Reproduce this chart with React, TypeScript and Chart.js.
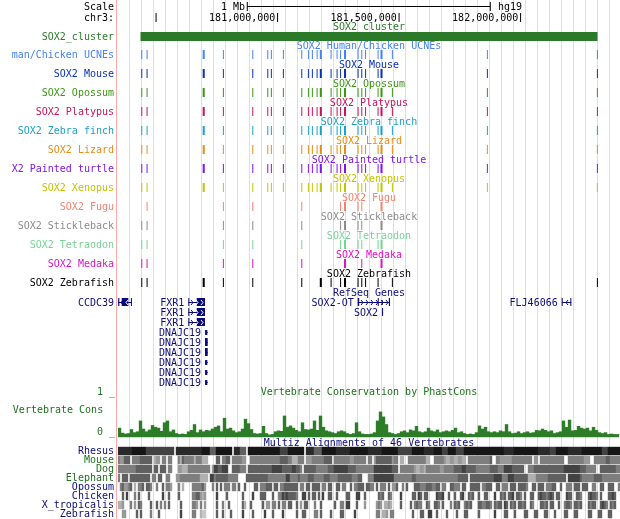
import React, { useEffect, useRef } from "react";
import { Chart, registerables } from "chart.js";

Chart.register(...registerables);

// ---------- genomic window (chr3, Mb) ----------
const VIEW_START = 180.3444;
const VIEW_END = 182.4102;

const CHROM_TICKS = [180.5, 181.0, 181.5, 182.0];
const CHROM_TICK_LABELS = ["", "181,000,000", "181,500,000", "182,000,000"];
const SCALE_BAR = [180.8753, 181.8753]; // 1 Mb
const SOX2_CLUSTER = [180.437, 182.3177];

// ---------- UCNE positions (Mb) per track ----------
const UCNE_HUMAN_CHICKEN = [180.442, 180.4638, 180.6971, 180.7778, 180.8988, 180.9605, 180.9753, 181.0247, 181.1004, 181.1276, 181.144, 181.1634, 181.179, 181.221, 181.2457, 181.2601, 181.2786, 181.3321, 181.3473, 181.363, 181.4144, 181.4288, 181.4733, 181.8642, 182.3169];
const UCNE_MOUSE = [180.442, 180.4638, 180.6971, 180.7778, 180.8988, 180.9605, 180.9753, 181.0247, 181.1004, 181.1276, 181.144, 181.1634, 181.179, 181.221, 181.2457, 181.2601, 181.2786, 181.3321, 181.3473, 181.363, 181.4144, 181.4288, 181.8642, 182.3169];
const UCNE_OPOSSUM = [180.442, 180.4638, 180.6971, 180.7778, 180.8988, 180.9605, 180.9753, 181.0247, 181.1004, 181.1276, 181.144, 181.1634, 181.179, 181.221, 181.2457, 181.2601, 181.2786, 181.3321, 181.3473, 181.363, 181.4144, 181.4288, 181.4733, 181.8642, 182.3169];
const UCNE_PLATYPUS = [180.442, 180.4638, 180.6971, 180.7778, 180.8988, 180.9605, 180.9753, 181.0247, 181.1004, 181.1276, 181.144, 181.1634, 181.179, 181.221, 181.2457, 181.2601, 181.2786, 181.3321, 181.3473, 181.363, 181.4144, 181.4288, 181.4733, 181.8642, 182.3169];
const UCNE_ZEBRA_FINCH = [180.442, 180.4638, 180.6971, 180.7778, 180.8988, 180.9605, 180.9753, 181.0247, 181.1004, 181.1276, 181.144, 181.1634, 181.179, 181.221, 181.2457, 181.2601, 181.2786, 181.3321, 181.3473, 181.363, 181.4144, 181.4288, 181.4733, 181.8642, 182.3169];
const UCNE_LIZARD = [180.442, 180.4638, 180.6971, 180.7778, 180.8988, 180.9605, 180.9753, 181.0247, 181.1004, 181.1276, 181.144, 181.1634, 181.179, 181.221, 181.2457, 181.2601, 181.2786, 181.3321, 181.3473, 181.363, 181.4144, 181.4288, 181.4733, 181.8642, 182.3169];
const UCNE_TURTLE = [180.442, 180.4638, 180.6971, 180.7778, 180.8988, 180.9605, 180.9753, 181.0247, 181.1004, 181.1276, 181.144, 181.1634, 181.179, 181.221, 181.2457, 181.2601, 181.2786, 181.3321, 181.3473, 181.363, 181.4144, 181.4288, 181.8642, 182.3169];
const UCNE_XENOPUS = [180.442, 180.4638, 180.6971, 180.7778, 180.8988, 180.9605, 180.9753, 181.0247, 181.1004, 181.1276, 181.144, 181.1634, 181.179, 181.221, 181.2457, 181.2601, 181.2786, 181.3321, 181.3473, 181.363, 181.4144, 181.4288, 181.4733, 181.8642, 182.3169];
const UCNE_FUGU = [180.4638, 180.7778, 180.8988, 181.1004, 181.2601, 181.2786, 181.3321, 181.3473, 181.4288];
const UCNE_STICKLEBACK = [180.442, 180.4638, 180.7778, 180.8988, 181.1004, 181.2601, 181.2786, 181.3321, 181.3473, 181.4288];
const UCNE_TETRAODON = [180.442, 180.4638, 180.7778, 180.8988, 181.1004, 181.2601, 181.2786, 181.3321, 181.3473, 181.4144, 181.4288];
const UCNE_MEDAKA = [180.442, 180.4638, 180.7778, 180.8988, 181.1004, 181.2786, 181.3473, 181.4288];
const UCNE_ZEBRAFISH = [180.442, 180.4638, 180.6971, 180.7778, 180.8988, 181.1004, 181.179, 181.221, 181.2601, 181.2786, 181.3321, 181.3473, 181.363, 181.4144, 181.4733, 182.3169];
const WIDE_UCNES = [180.6971, 181.179, 181.2786, 181.4288];

const UCNE_LABELS = ["man/Chicken UCNEs", "SOX2 Mouse", "SOX2 Opossum", "SOX2 Platypus", "SOX2 Zebra finch", "SOX2 Lizard", "X2 Painted turtle", "SOX2 Xenopus", "SOX2 Fugu", "SOX2 Stickleback", "SOX2 Tetraodon", "SOX2 Medaka", "SOX2 Zebrafish"];
const UCNE_TITLES = ["SOX2 Human/Chicken UCNEs", "SOX2 Mouse", "SOX2 Opossum", "SOX2 Platypus", "SOX2 Zebra finch", "SOX2 Lizard", "SOX2 Painted turtle", "SOX2 Xenopus", "SOX2 Fugu", "SOX2 Stickleback", "SOX2 Tetraodon", "SOX2 Medaka", "SOX2 Zebrafish"];
const UCNE_SETS = [UCNE_HUMAN_CHICKEN, UCNE_MOUSE, UCNE_OPOSSUM, UCNE_PLATYPUS, UCNE_ZEBRA_FINCH, UCNE_LIZARD, UCNE_TURTLE, UCNE_XENOPUS, UCNE_FUGU, UCNE_STICKLEBACK, UCNE_TETRAODON, UCNE_MEDAKA, UCNE_ZEBRAFISH];
const UCNE_COLORS = ["#4682f0", "#0a32b4", "#3c9614", "#c8145a", "#1ea0c8", "#e68c14", "#8214e6", "#c3c300", "#f5826e", "#8c8c8c", "#78d296", "#dc14c8", "#000000"];

// ---------- RefSeq genes ----------
const GENE_NAMES = ["CCDC39", "FXR1", "FXR1", "FXR1", "DNAJC19", "DNAJC19", "DNAJC19", "DNAJC19", "DNAJC19", "DNAJC19", "SOX2-OT", "SOX2", "FLJ46066"];
const GENE_ROWS = [0, 0, 1, 2, 3, 4, 5, 6, 7, 8, 0, 1, 0];
const GENE_STRANDS = ["-", "+", "+", "+", "-", "-", "-", "-", "-", "-", "+", "+", "-"];
const GENE_SPANS = [
  [180.3, 180.4008], [180.6337, 180.7025], [180.6337, 180.7025], [180.6337, 180.7025],
  [180.7025, 180.7136], [180.7025, 180.7136], [180.7025, 180.7136], [180.7025, 180.7136], [180.7025, 180.7136], [180.7025, 180.7136],
  [181.3309, 181.4638], [181.4309, 181.4352], [182.1704, 182.2099],
];
// [start, end, coding(1)/utr(0)]
const GENE_EXONS = [
  [[180.3452, 180.35, 1], [180.3597, 180.3868, 1], [180.3975, 180.4008, 1]],
  [[180.6337, 180.6375, 1], [180.6683, 180.7025, 1]],
  [[180.6337, 180.6375, 1], [180.6683, 180.7025, 1]],
  [[180.6337, 180.6375, 1], [180.6683, 180.7025, 1]],
  [[180.7027, 180.712, 0]],
  [[180.7025, 180.7136, 1]],
  [[180.7025, 180.7136, 1]],
  [[180.7027, 180.712, 0]],
  [[180.7027, 180.712, 0]],
  [[180.7027, 180.712, 0]],
  [[181.3309, 181.337, 1], [181.4132, 181.4175, 1], [181.4296, 181.433, 0], [181.459, 181.4638, 1]],
  [[181.4309, 181.4352, 1]],
  [[182.1704, 182.1745, 1], [182.2058, 182.2099, 1]],
];

// ---------- Vertebrate PhastCons (bins of 0.012346 Mb from VIEW_START) ----------
const CONS_BIN = 0.012346;
const CONS_VALUES = [
  0.2, 0.09, 0.07, 0.08, 0.17, 0.1, 0.12, 0.36, 0.18, 0.12, 0.16, 0.26,
  0.22, 0.2, 0.13, 0.32, 0.36, 0.12, 0.16, 0.08, 0.06, 0.07, 0.06, 0.12,
  0.15, 0.28, 0.1, 0.16, 0.12, 0.15, 0.14, 0.18, 0.22, 0.25, 0.12, 0.42,
  0.18, 0.2, 0.14, 0.1, 0.12, 0.18, 0.4, 0.3, 0.17, 0.08, 0.07, 0.08,
  0.24, 0.08, 0.05, 0.06, 0.12, 0.14, 0.13, 0.47, 0.22, 0.25, 0.2, 0.15,
  0.12, 0.32, 0.17, 0.16, 0.18, 0.36, 0.15, 0.47, 0.22, 0.14, 0.12, 0.1,
  0.08, 0.12, 0.14, 0.12, 0.08, 0.06, 0.08, 0.32, 0.12, 0.07, 0.06, 0.06,
  0.07, 0.1, 0.36, 0.56, 0.45, 0.28, 0.1, 0.08, 0.06, 0.08, 0.12, 0.14,
  0.1, 0.16, 0.14, 0.24, 0.12, 0.1, 0.12, 0.2, 0.14, 0.12, 0.16, 0.1,
  0.12, 0.14, 0.12, 0.15, 0.2, 0.1, 0.12, 0.08, 0.06, 0.07, 0.06, 0.1,
  0.25, 0.18, 0.22, 0.12, 0.1, 0.12, 0.1, 0.14, 0.12, 0.28, 0.12, 0.08,
  0.09, 0.12, 0.08, 0.1, 0.12, 0.09, 0.1, 0.15, 0.14, 0.18, 0.15, 0.12,
  0.14, 0.08, 0.1, 0.12, 0.36, 0.22, 0.38, 0.14, 0.15, 0.24, 0.2, 0.18,
  0.2, 0.14, 0.22, 0.15, 0.1, 0.08, 0.1, 0.06, 0.07, 0.06, 0.06,
];

// ---------- Multiz 46-way: alignment shade per 0.00823 Mb bin (0 = none, 9 = darkest); [west, east] ----------
const MZ_BIN = 0.00823;
const MZ_EAST_OFFSET = 125;
const MULTIZ_RHESUS = [
  "88888889999999777777777777770888888888888899996669999999908886660999999999999999977779999999908888666699999998888888999999999",
  "888888899999999777777799999988888999977799997777999999999999999999998888899999999999988888877799999988888889999999999777999999",
];
const MULTIZ_MOUSE = [
  "5446660555566666603440550550005365555535553330000660556605555544005555555555555556666553335550444555555666605555555544555555",
  "550466666666455033005555555553300555554334433443305555555555560055444444555555555504405555555555550055555555444005555556655555500",
];
const MULTIZ_DOG = [
  "55555555566666666066066605500044333555555555550477667770066665550666666666666777776666677665066666655555566677777776666555555",
  "555777777777666055555554334435555555445555566667766666555555566665557777666666005556666666666666667777777766655555006666666655",
];
const MULTIZ_ELEPHANT = [
  "50666066666666660550660055000445555555555333307756666665555500006666666666655555555577555565555666555556665555666666655566",
  "555777777777755555555566555555555555555555555666660666666666666777755577766666663333555555666666666077777765555556666555555555",
];
const MULTIZ_OPOSSUM = [
  "056445603055606650050060554000503000055555640005060605550550600600006605556660660556666666055066066660550660066055006055666066",
  "055060555060446005060006665556665566055006655506600666660556660066055506660666650066066605556600600555066606660055006600666005500",
];
const MULTIZ_CHICKEN = [
  "00607000506000060000007006000060000005566434000007000060000000600007000666000600557676666500770606606070066006000066000770060",
  "000006560065000070000066076066000076670060060067006560060066000700656066706650600660067665676066000766006650006766506000667600",
];
const MULTIZ_XTROP = [
  "33400050406500006006050506000006000005540504000006005006000000630060000060440550605506600604066000500600000060055077000600040",
  "000045403343000060000605655006500665060005065600565600066556650656607606560665600650006656066006005665066560006566006765065600",
];
const MULTIZ_ZEBRAFISH = [
  "00440000060600005000600000000007000005500322000006006000600000700006000007000600007000000600660000550600006000066000007000000",
  "000055033405500000000060006600770060000600006000660000060000000700006600060000660006600066000600006600066000006600066000660000",
];
const MULTIZ_SPECIES = ["Rhesus", "Mouse", "Dog", "Elephant", "Opossum", "Chicken", "X_tropicalis", "Zebrafish"];
const MULTIZ_ROWS = [MULTIZ_RHESUS, MULTIZ_MOUSE, MULTIZ_DOG, MULTIZ_ELEPHANT, MULTIZ_OPOSSUM, MULTIZ_CHICKEN, MULTIZ_XTROP, MULTIZ_ZEBRAFISH];

// ---------- styles ----------
const NAVY = "#0c0c78";
const GREEN_BAR = "#2a7a2a";
const CONS_GREEN = "#2d7d28";
const TEXT_GREEN = "#1e701e";
const MULTIZ_LABEL_COLORS = [NAVY, "#1e701e", "#1e701e", "#1e701e", NAVY, NAVY, NAVY, NAVY];
const GRAY = ["", "#e0e0e0", "#c8c8c8", "#b0b0b0", "#989898", "#7e7e7e", "#606060", "#424242", "#2a2a2a", "#161616"];
const FONT = '10px "DejaVu Sans Mono"';

const LABEL_RIGHT = 114;
const CENTER_X = 369;
const ucneRowY = (i: number) => 54.5 + 19 * i;
const geneRowY = (r: number) => 302 + 10 * r;
const multizRowY = (i: number) => 451 + 9 * i;

function hbar(label: string, points: any[], color: any, thickness: number, inflate = 0) {
  return {
    type: "bar",
    label,
    indexAxis: "y",
    xAxisID: "x",
    yAxisID: "yRow",
    data: points,
    backgroundColor: color,
    barThickness: thickness,
    grouped: false,
    minBarLength: 1,
    borderWidth: 0,
    inflateAmount: inflate,
  };
}

function buildDatasets() {
  const ds: any[] = [];
  ds.push(hbar("scalebar", [{ x: SCALE_BAR, y: 6.5 }], "#000", 1));
  ds.push(hbar("scaleends", SCALE_BAR.map((p) => ({ x: [p - 0.001, p + 0.001], y: 6.5 })), "#000", 9));
  ds.push(hbar("chromticks", CHROM_TICKS.map((p) => ({ x: [p - 0.001, p + 0.001], y: 17.5 })), "#000", 9));
  ds.push(hbar("cluster", [{ x: SOX2_CLUSTER, y: 36.5 }], GREEN_BAR, 9));
  UCNE_SETS.forEach((set, i) => {
    ds.push(
      hbar(
        UCNE_TITLES[i],
        set.map((p) => {
          const w = WIDE_UCNES.includes(p) ? 0.0042 : 0.0018;
          return { x: [p - w, p + w], y: ucneRowY(i) };
        }),
        UCNE_COLORS[i],
        9
      )
    );
  });
  ds.push(hbar("introns", GENE_SPANS.map((s, i) => ({ x: s, y: geneRowY(GENE_ROWS[i]) + 0.5 })), NAVY, 1));
  const coding: any[] = [];
  const utr: any[] = [];
  GENE_EXONS.forEach((exs, i) => {
    exs.forEach((e) => {
      const pt = { x: [e[0], e[1]], y: geneRowY(GENE_ROWS[i]) + (e[2] ? 0 : 0.5) };
      (e[2] ? coding : utr).push(pt);
    });
  });
  ds.push(hbar("coding", coding, NAVY, 8));
  ds.push(hbar("utr", utr, NAVY, 5));
  ds.push({
    type: "bar",
    label: "cons",
    indexAxis: "x",
    xAxisID: "x",
    yAxisID: "yCons",
    data: CONS_VALUES.map((v, i) => ({ x: VIEW_START + (i + 0.5) * CONS_BIN, y: v })),
    backgroundColor: CONS_GREEN,
    barThickness: 3,
    grouped: false,
    borderWidth: 0,
    inflateAmount: 0.2,
  });
  MULTIZ_ROWS.forEach((halves, r) => {
    const pts: any[] = [];
    const cols: string[] = [];
    halves.forEach((str, h) => {
      const off = h === 0 ? 0 : MZ_EAST_OFFSET;
      let k = 0;
      while (k < str.length) {
        const c = str[k];
        let j = k;
        while (j < str.length && str[j] === c) j++;
        const lvl = parseInt(c, 10);
        if (lvl > 0) {
          pts.push({ x: [VIEW_START + (off + k) * MZ_BIN, VIEW_START + (off + j) * MZ_BIN], y: multizRowY(r) });
          cols.push(GRAY[lvl]);
        }
        k = j;
      }
    });
    ds.push(hbar(MULTIZ_SPECIES[r], pts, cols, 8, 0.2));
  });
  return ds;
}

const ucscPlugin = {
  id: "ucscDecor",
  beforeDatasetsDraw(chart: any) {
    const ctx = chart.ctx;
    ctx.save();
    ctx.fillStyle = "rgb(221,217,246)";
    for (let px = 129; px < 620; px += 12) ctx.fillRect(px, 0, 1, 519);
    ctx.fillStyle = "rgb(255,168,168)";
    ctx.fillRect(116, 0, 1, 519);
    ctx.restore();
  },
  afterDatasetsDraw(chart: any) {
    const ctx = chart.ctx;
    const xs = chart.scales.x;
    ctx.save();
    ctx.font = FONT;
    ctx.textBaseline = "middle";
    const t = (s: string, x: number, y: number, color: string, align: CanvasTextAlign = "right") => {
      ctx.fillStyle = color;
      ctx.textAlign = align;
      ctx.fillText(s, x, y);
    };
    t("Scale", LABEL_RIGHT, 7, "#000");
    t("chr3:", LABEL_RIGHT, 18, "#000");
    t("1 Mb", xs.getPixelForValue(SCALE_BAR[0]) - 2, 7, "#000");
    t("hg19", xs.getPixelForValue(SCALE_BAR[1]) + 8, 7, "#000", "left");
    CHROM_TICKS.forEach((p, i) => {
      if (CHROM_TICK_LABELS[i]) t(CHROM_TICK_LABELS[i], xs.getPixelForValue(p) - 2, 18, "#000");
    });
    t("SOX2_cluster", LABEL_RIGHT, 37, GREEN_BAR);
    t("SOX2_cluster", CENTER_X, 27.5, GREEN_BAR, "center");
    UCNE_LABELS.forEach((lab, i) => {
      t(lab, LABEL_RIGHT, ucneRowY(i) + 1, UCNE_COLORS[i]);
      t(UCNE_TITLES[i], CENTER_X, ucneRowY(i) - 8.5, UCNE_COLORS[i], "center");
    });
    t("RefSeq Genes", CENTER_X, 293.5, NAVY, "center");
    GENE_NAMES.forEach((name, i) => {
      const gx = xs.getPixelForValue(GENE_SPANS[i][0]);
      const lx = gx < chart.chartArea.left ? LABEL_RIGHT : gx - 4;
      t(name, lx, geneRowY(GENE_ROWS[i]) + 1, NAVY);
    });
    ctx.lineWidth = 1;
    GENE_SPANS.forEach((span, i) => {
      const a = xs.getPixelForValue(span[0]);
      const b = xs.getPixelForValue(span[1]);
      if (b - a < 8) return;
      const y = geneRowY(GENE_ROWS[i]) + 0.5;
      const dir = GENE_STRANDS[i] === "+" ? 1 : -1;
      for (let px = a + 4; px < b - 2; px += 5) {
        if (px < chart.chartArea.left + 1) continue;
        const inside = GENE_EXONS[i].some((e) => e[2] && px >= xs.getPixelForValue(e[0]) && px <= xs.getPixelForValue(e[1]));
        ctx.strokeStyle = inside ? "#fff" : NAVY;
        const cx = Math.round(px) + 0.5;
        ctx.beginPath();
        ctx.moveTo(cx - dir * 1.5, y - 2.5);
        ctx.lineTo(cx + dir * 0.5, y);
        ctx.lineTo(cx - dir * 1.5, y + 2.5);
        ctx.stroke();
      }
    });
    t("1 _", 115, 392, TEXT_GREEN);
    t("Vertebrate Cons", 58, 410.5, TEXT_GREEN, "center");
    t("0 _", 115, 432, TEXT_GREEN);
    t("Vertebrate Conservation by PhastCons", CENTER_X, 392, TEXT_GREEN, "center");
    t("Multiz Alignments of 46 Vertebrates", CENTER_X, 443, NAVY, "center");
    MULTIZ_SPECIES.forEach((s, i) => t(s, LABEL_RIGHT, multizRowY(i) + 0.5, MULTIZ_LABEL_COLORS[i]));
    ctx.restore();
  },
};

export default function App() {
  const ref = useRef<HTMLCanvasElement>(null);
  useEffect(() => {
    document.body.style.margin = "0";
    const canvas = ref.current as HTMLCanvasElement;
    const chart = new Chart(canvas, {
      type: "bar",
      data: { datasets: buildDatasets() as any },
      options: {
        responsive: false,
        animation: false,
        devicePixelRatio: 1,
        events: [],
        layout: { padding: { left: 118, right: 0, top: 0, bottom: 0 } },
        plugins: { legend: { display: false }, tooltip: { enabled: false } },
        scales: {
          x: { type: "linear", min: VIEW_START, max: VIEW_END, display: false, offset: false, grid: { offset: false } },
          yRow: { type: "linear", axis: "y", min: 0, max: 519, reverse: true, display: false, offset: false, grid: { offset: false } },
          yCons: { type: "linear", axis: "y", min: -1.8222, max: 9.7111, display: false, offset: false, grid: { offset: false } },
        } as any,
      } as any,
      plugins: [ucscPlugin as any],
    });
    return () => chart.destroy();
  }, []);
  return (
    <canvas
      ref={ref}
      width={620}
      height={519}
      style={{ display: "block", width: 620, height: 519, background: "#fff" }}
    />
  );
}
